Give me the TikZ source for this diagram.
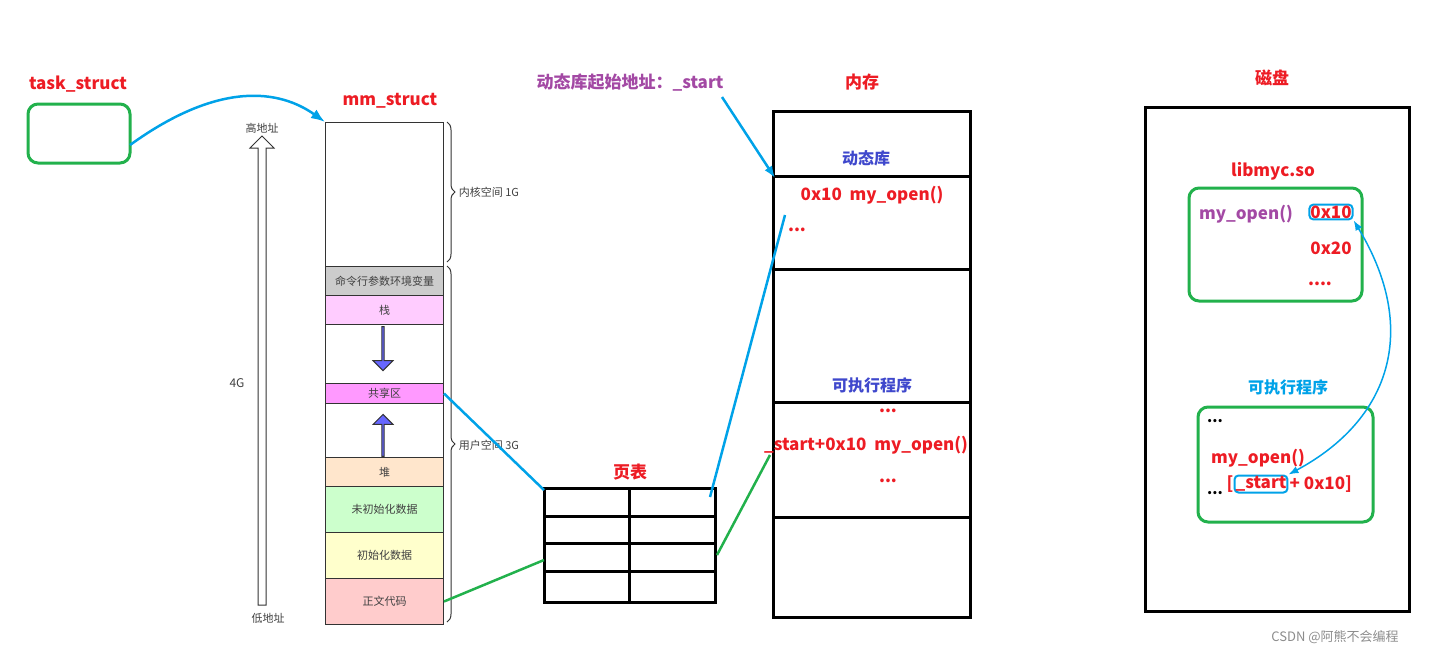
\documentclass[tikz,border=0pt]{standalone}
\usepackage{fontspec}
\setmainfont{Noto Sans CJK SC}
\usetikzlibrary{arrows.meta,decorations.pathreplacing,shapes.arrows}
\definecolor{tred}{RGB}{237,28,36}
\definecolor{tblue}{RGB}{0,162,232}
\definecolor{tgreen}{RGB}{34,177,76}
\definecolor{tpurple}{RGB}{163,73,164}
\definecolor{tindigo}{RGB}{63,72,204}
\definecolor{arrfill}{RGB}{102,102,255}
\tikzset{
  title/.style={text=tred,font=\bfseries\fontsize{17}{19}\selectfont},
  btitle/.style={text=tindigo,font=\bfseries\fontsize{16}{18}\selectfont},
  small/.style={font=\fontsize{11}{13}\selectfont,text=black!75},
  seg/.style={draw=black!80,line width=1pt,minimum width=118pt,inner sep=0pt,small},
  growarrow/.style={single arrow,draw=black!80,line width=1pt,fill=arrfill,minimum width=20pt,single arrow head extend=4pt,inner sep=0pt,minimum height=44pt},
  gbox/.style={draw=tgreen,line width=3pt,rounded corners=10pt},
  bline/.style={tblue,line width=2.5pt},
  gline/.style={tgreen,line width=2.5pt},
  tbl/.style={line width=3pt},
}
\begin{document}
\begin{tikzpicture}[x=1pt,y=-1pt]
\useasboundingbox (0,0) rectangle (1447,657);
% task_struct
\node[title] (ts) at (78,84) {task\_struct};
\draw[gbox] (28,104) rectangle (130,163);
\coordinate (tsr) at (130,145);
\node[title] (mm) at (390,101) {mm\_struct};
% address arrow
\node[small] (hi) at (262,128) {高地址};
\node[small] (lo) at (268,618) {低地址};
\node[small,font=\fontsize{12}{14}\selectfont] (g4) at (237,383) {4G};
\node[single arrow,draw=black!80,line width=1pt,shape border rotate=90,minimum width=24pt,single arrow head extend=1pt,inner sep=0pt,minimum height=469pt] (ar) at (262,372.5) {};
% segments
\node[seg,minimum height=144pt,anchor=north west] (kern) at (325,122) {};
\node[seg,minimum height=29pt,anchor=north west,fill=black!20] (cmd) at (325,266) {命令行参数环境变量};
\node[seg,minimum height=29pt,anchor=north west,fill={rgb,255:red,255;green,204;blue,255}] (stk) at (325,295) {栈};
\node[seg,minimum height=59pt,anchor=north west] (gap1) at (325,324) {};
\node[seg,minimum height=20pt,anchor=north west,fill={rgb,255:red,255;green,153;blue,255}] (shr) at (325,383) {共享区};
\node[seg,minimum height=54pt,anchor=north west] (gap2) at (325,403) {};
\node[seg,minimum height=29pt,anchor=north west,fill={rgb,255:red,255;green,230;blue,204}] (heap) at (325,457) {堆};
\node[seg,minimum height=46pt,anchor=north west,fill={rgb,255:red,204;green,255;blue,204}] (bss) at (325,486) {未初始化数据};
\node[seg,minimum height=46pt,anchor=north west,fill={rgb,255:red,255;green,255;blue,204}] (data) at (325,532) {初始化数据};
\node[seg,minimum height=46pt,anchor=north west,fill={rgb,255:red,255;green,204;blue,204}] (text) at (325,578) {正文代码};
\node[growarrow,shape border rotate=270] (down) at (383,348) {};
\node[growarrow,shape border rotate=90,minimum height=42pt] (up) at (383,436) {};
\draw[-{Latex[length=14pt]},bline] (tsr) .. controls (220,80) and (280,90) .. (kern.north west);
% braces
\draw[decorate,decoration={brace,amplitude=8pt},line width=1pt,black!80] (447,122) -- (447,262) node[midway,right=8pt,small] (kl) {内核空间 1G};
\draw[decorate,decoration={brace,amplitude=8pt},line width=1pt,black!80] (447,266) -- (447,622) node[midway,right=8pt,yshift=-1pt,small] (ul) {用户空间 3G};
% page table
\node[title] (pt) at (630,472) {页表};
\draw[tbl] (544,488) rectangle (715,602);
\foreach \y in {516,543,571} \draw[tbl] (544,\y) -- (715,\y);
\draw[tbl] (629,488) -- (629,602);
\coordinate (pt1) at (544,490);
\coordinate (pt2) at (544,560);
\coordinate (pt3) at (710,497);
\coordinate (pt4) at (717,555);
\draw[bline] (shr.east) -- (pt1);
\draw[gline] (text.east) -- (pt2);
% memory
\node[title] (mem) at (862,82) {内存};
\draw[tbl] (773,111) rectangle (970,617);
\foreach \y in {176,269,402,517} \draw[tbl] (773,\y) -- (970,\y);
\node[btitle] (dyn) at (866,158) {动态库};
\node[title] (m1) at (872,195) {0x10\ \ my\_open()};
\node[title] (m2) at (797,230) {...};
\node[btitle] (exe) at (872,385) {可执行程序};
\node[title] (m3) at (888,411) {...};
\node[title] (m4) at (866,445) {\_start+0x10\ \ my\_open()};
\node[title] (m5) at (888,481) {...};
\node[text=tpurple,font=\bfseries\fontsize{17}{19}\selectfont] (st) at (630,82) {动态库起始地址：\_start};
\draw[-{Latex[length=12pt]},bline] (722,97) -- (775,178);
\draw[bline] (pt3) -- (785,215);
\draw[gline] (pt4) -- (770,455);
% disk
\node[title] (disk) at (1272,78) {磁盘};
\draw[tbl] (1145,107) rectangle (1409,611);
\node[title] (lib) at (1273,171) {libmyc.so};
\draw[gbox] (1189,188) rectangle (1362,301);
\node[text=tpurple,font=\bfseries\fontsize{17}{19}\selectfont] (op) at (1246,214) {my\_open()};
\node[title,draw=tblue,line width=2pt,rounded corners=4pt,inner sep=1pt] (x10) at (1331,212) {0x10};
\node[title] (x20) at (1331,248) {0x20};
\node[title] (dd) at (1320,284) {....};
\node[text=tblue,font=\bfseries\fontsize{16}{18}\selectfont] (exe2) at (1288,387) {可执行程序};
\draw[gbox] (1198,407) rectangle (1373,522);
\node[font=\bfseries\fontsize{15}{17}\selectfont] (e1) at (1215,421) {...};
\node[title] (e2) at (1258,458) {my\_open()};
\node[title,draw=tblue,line width=2pt,rounded corners=4pt,inner sep=1pt] (stt) at (1261,484) {\_start};
\node[title,anchor=east,inner sep=0pt] (lb) at (stt.west) {[};
\node[title,anchor=west,inner sep=1pt] (e3) at (stt.east) {+ 0x10]};
\node[font=\bfseries\fontsize{15}{17}\selectfont] (e4) at (1215,493) {...};
\draw[{Latex[length=10pt]}-{Latex[length=10pt]},tblue,line width=1.5pt] (stt.north east) .. controls (1390,420) and (1420,330) .. (x10.south east);
\node[text=black!45,font=\fontsize{13}{15}\selectfont] (wm) at (1335,637) {CSDN @阿熊不会编程};
\end{tikzpicture}
\end{document}
